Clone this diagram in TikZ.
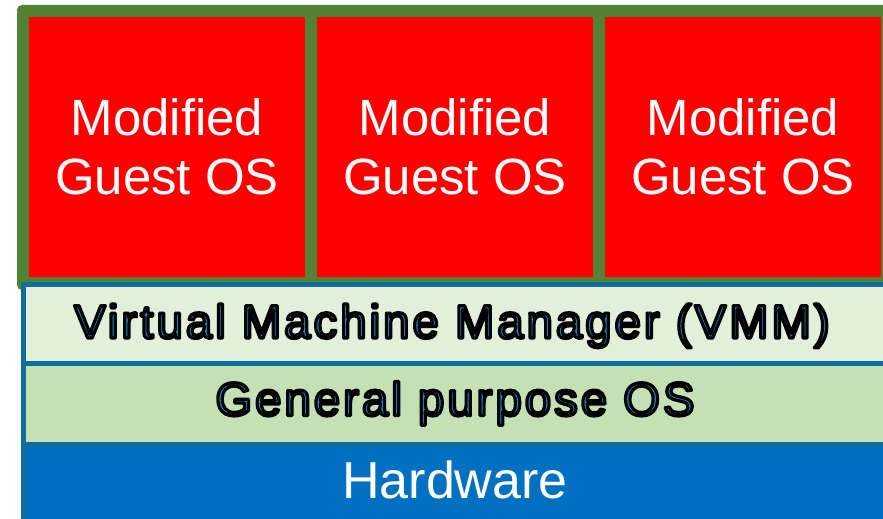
\documentclass[tikz,border=0pt]{standalone}
\usepackage{fontspec}
\setmainfont{Liberation Sans}
\definecolor{frameGreen}{RGB}{84,130,53}
\definecolor{guestRed}{RGB}{255,0,0}
\definecolor{vmmFill}{RGB}{226,239,218}
\definecolor{gpFill}{RGB}{197,224,180}
\definecolor{hwFill}{RGB}{0,112,192}
\definecolor{layerLine}{RGB}{16,110,155}
\definecolor{txtBlue}{RGB}{0,150,215}
\newcommand{\outlinedtext}[1]{{\color{txtBlue}\special{pdf:literal direct 0 0 0 RG 2 Tr 3.2 w 1 j}#1\special{pdf:literal direct 0 Tr 0.4 w 0 j}}}
\begin{document}
\begin{tikzpicture}[x={(1pt,0)},y={(0,-1pt)},
  guestbox/.style={fill=guestRed},
  guesttext/.style={text=white, font=\fontsize{51}{59}\selectfont, anchor=base, inner sep=0pt},
  hwtext/.style={text=white, font=\fontsize{52}{60}\selectfont, anchor=base, inner sep=0pt},
  layertext/.style={font=\fontsize{47}{56}\selectfont\addfontfeature{LetterSpace=6.8}, anchor=base, inner sep=0pt},
  layerline/.style={draw=layerLine, line width=5pt}]
\useasboundingbox (0,0) rectangle (883,519);
\clip (0,0) rectangle (883,519);
% green frame with three guest boxes
\fill[frameGreen, rounded corners=5pt] (17,5) rectangle (900,290);
\fill[guestbox] (29,17) rectangle (305,277);
\fill[guestbox] (317,17) rectangle (593,277);
\fill[guestbox] (605,17) rectangle (881,277);
% layers
\fill[vmmFill] (23,284) rectangle (900,363.5);
\fill[gpFill] (23,363.5) rectangle (900,444);
\fill[hwFill] (23,444) rectangle (900,540);
\draw[layerline] (23,540) -- (23,284) -- (900,284);
\draw[layerline] (23,363.5) -- (900,363.5);
\draw[layerline] (23,444) -- (900,444);
% texts
\node[guesttext] (mod1) at (167,135) {Modified};
\node[guesttext] (gos1) at (167,194) {Guest OS};
\node[guesttext] (mod2) at (455,135) {Modified};
\node[guesttext] (gos2) at (455,194) {Guest OS};
\node[guesttext] (mod3) at (743,135) {Modified};
\node[guesttext] (gos3) at (743,194) {Guest OS};
\node[layertext] (vmm) at (452,338) {\outlinedtext{Virtual Machine Manager (VMM)}};
\node[layertext] (gpos) at (455,415.5) {\outlinedtext{General purpose OS}};
\node[hwtext] (hw) at (455,498) {Hardware};
\end{tikzpicture}
\end{document}
